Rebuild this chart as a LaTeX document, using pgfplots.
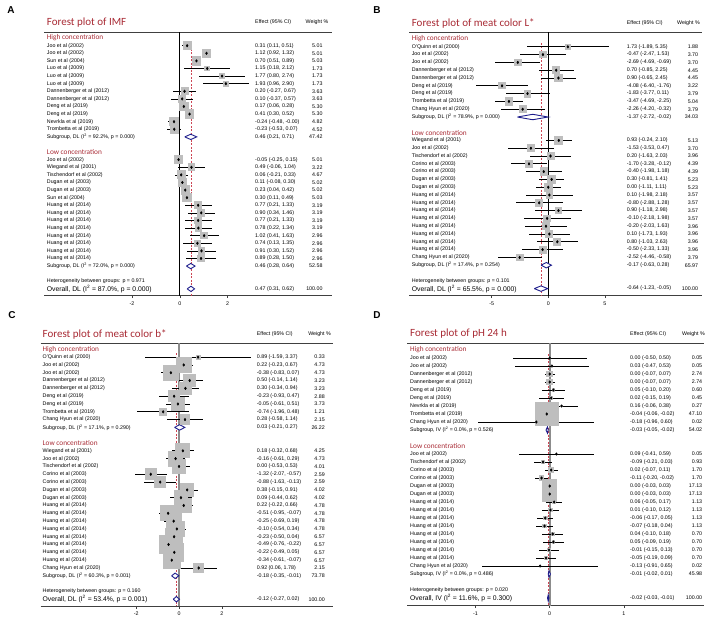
\documentclass[border=0pt]{standalone}
\usepackage{pgfplots}
\usepackage{pgfplotstable}
\pgfplotsset{compat=1.18}
\usepackage{fontspec}
\setmainfont{Liberation Sans}
\newfontfamily\calibri{Carlito}
\definecolor{titlered}{RGB}{168,42,52}
\definecolor{sqgray}{RGB}{190,190,190}
\definecolor{dashred}{RGB}{205,70,85}
\definecolor{navy}{RGB}{30,30,140}
\newcommand{\fs}{\fontsize{5.3}{6}\selectfont}
\newcommand{\ofs}{\fontsize{6.8}{8}\selectfont}
\pgfplotsset{
 forest/.style={
  scale only axis, clip=false, y dir=reverse,
  axis x line=box, axis y line=none,
  xtick pos=left, tick align=outside, major tick length=2.5pt,
  axis line style={black!75, line width=0.6pt},
  every tick/.style={black!75, line width=0.5pt},
  xticklabel style={font=\fs},
  /pgf/number format/assume math mode=true,
  ytick=\empty,
 },
 sq/.style={scatter, only marks, mark=square*,
  visualization depends on={#1*sqrt(\thisrow{w}) \as \msz},
  scatter/@pre marker code/.code={\scope[mark size=\msz, color=sqgray, line width=0pt]},
  scatter/@post marker code/.code={\endscope}},
 ci/.style={only marks, mark=diamond*, mark size=1.3pt, black,
  error bars/.cd, x dir=both, x explicit, error mark=none,
  error bar style={line width=0.7pt, black}},
 lab/.style={only marks, mark=*, mark size=0.1pt, mark options={draw opacity=0, fill opacity=0},
  nodes near coords, point meta=explicit symbolic,
  every node near coord/.append style={anchor=#1, font=\fs, inner sep=0pt, text=black, opacity=1, text opacity=1}},
 dia/.style={draw=navy, line width=0.9pt, fill=white, mark=none, line join=miter},
}
\newcommand{\rowtxt}[4]{%
 \node[anchor=west,font=\fs,inner sep=0pt] at (axis cs:\xn,#1) {#2};
 \node[anchor=west,font=\fs,inner sep=0pt] at (axis cs:\xe,#1) {#3};
 \node[anchor=east,font=\fs,inner sep=0pt] at (axis cs:\xw,#1) {#4};}
\newcommand{\ovtxt}[4]{%
 \node[anchor=west,font=\ofs,inner sep=0pt] at (axis cs:\xn,#1) {#2};
 \node[anchor=west,font=\fs,inner sep=0pt] at (axis cs:\xe,#1) {#3};
 \node[anchor=east,font=\fs,inner sep=0pt] at (axis cs:\xw,#1) {#4};}
\newcommand{\grp}[2]{\node[anchor=west,font=\calibri\fontsize{7.3}{8}\selectfont,text=titlered,inner sep=0pt] at (axis cs:\xn,#1) {#2};}
\newcommand{\heads}[3]{%
 \node[anchor=west,font=\calibri\fontsize{11}{13}\selectfont,text=titlered,inner sep=0pt] at (axis cs:\xn,#1) {#3};
 \node[anchor=west,font=\fs,inner sep=0pt] at (axis cs:\xe,#1) {Effect (95\% CI)};
 \node[anchor=west,font=\fs,inner sep=0pt] at (axis cs:#2,#1) {Weight \%};}

\pgfplotstableread[col sep=semicolon,row sep=\\]{y;est;lo;hi;w;name;eff\\
1;0.31;0.11;0.51;5.01;Joo et al (2002);0.31 (0.11, 0.51)\\
2;1.12;0.92;1.32;5.01;Joo et al (2002);1.12 (0.92, 1.32)\\
3;0.70;0.51;0.89;5.03;Sun et al (2004);0.70 (0.51, 0.89)\\
4;1.15;0.18;2.12;1.73;Luo et al (2009);1.15 (0.18, 2.12)\\
5;1.77;0.80;2.74;1.73;Luo et al (2009);1.77 (0.80, 2.74)\\
6;1.93;0.96;2.90;1.73;Luo et al (2009);1.93 (0.96, 2.90)\\
7;0.20;-0.27;0.67;3.63;Dannenberger et al (2012);0.20 (-0.27, 0.67)\\
8;0.10;-0.37;0.57;3.63;Dannenberger et al (2012);0.10 (-0.37, 0.57)\\
9;0.17;0.06;0.28;5.30;Deng et al (2019);0.17 (0.06, 0.28)\\
10;0.41;0.30;0.52;5.30;Deng et al (2019);0.41 (0.30, 0.52)\\
11;-0.24;-0.48;-0.00;4.82;Nevrkla et al (2019);-0.24 (-0.48, -0.00)\\
12;-0.23;-0.53;0.07;4.52;Trombetta et al (2019);-0.23 (-0.53, 0.07)\\
16;-0.05;-0.25;0.15;5.01;Joo et al (2002);-0.05 (-0.25, 0.15)\\
17;0.49;-0.06;1.04;3.22;Wiegand et al (2001);0.49 (-0.06, 1.04)\\
18;0.06;-0.21;0.33;4.67;Tischendorf et al (2002);0.06 (-0.21, 0.33)\\
19;0.11;-0.08;0.30;5.02;Dugan et al (2003);0.11 (-0.08, 0.30)\\
20;0.23;0.04;0.42;5.02;Dugan et al (2003);0.23 (0.04, 0.42)\\
21;0.30;0.11;0.49;5.03;Sun et al (2004);0.30 (0.11, 0.49)\\
22;0.77;0.21;1.33;3.19;Huang et al (2014);0.77 (0.21, 1.33)\\
23;0.90;0.34;1.46;3.19;Huang et al (2014);0.90 (0.34, 1.46)\\
24;0.77;0.21;1.33;3.19;Huang et al (2014);0.77 (0.21, 1.33)\\
25;0.78;0.22;1.34;3.19;Huang et al (2014);0.78 (0.22, 1.34)\\
26;1.02;0.41;1.63;2.96;Huang et al (2014);1.02 (0.41, 1.63)\\
27;0.74;0.13;1.35;2.96;Huang et al (2014);0.74 (0.13, 1.35)\\
28;0.91;0.30;1.52;2.96;Huang et al (2014);0.91 (0.30, 1.52)\\
29;0.89;0.28;1.50;2.96;Huang et al (2014);0.89 (0.28, 1.50)\\
}\tA

\pgfplotstableread[col sep=semicolon,row sep=\\]{y;est;lo;hi;w;name;eff\\
1;1.73;-1.89;5.35;1.88;O'Quinn et al (2000);1.73 (-1.89, 5.35)\\
2;-0.47;-2.47;1.53;3.70;Joo et al (2002);-0.47 (-2.47, 1.53)\\
3;-2.69;-4.69;-0.69;3.70;Joo et al (2002);-2.69 (-4.69, -0.69)\\
4;0.70;-0.85;2.25;4.45;Dannenberger et al (2012);0.70 (-0.85, 2.25)\\
5;0.90;-0.65;2.45;4.45;Dannenberger et al (2012);0.90 (-0.65, 2.45)\\
6;-4.08;-6.40;-1.76;3.22;Deng et al (2019);-4.08 (-6.40, -1.76)\\
7;-1.83;-3.77;0.11;3.79;Deng et al (2019);-1.83 (-3.77, 0.11)\\
8;-3.47;-4.69;-2.25;5.04;Trombetta et al (2019);-3.47 (-4.69, -2.25)\\
9;-2.26;-4.20;-0.32;3.79;Chang Hyun et al (2020);-2.26 (-4.20, -0.32)\\
13;0.93;-0.24;2.10;5.13;Wiegand et al (2001);0.93 (-0.24, 2.10)\\
14;-1.53;-3.53;0.47;3.70;Joo et al (2002);-1.53 (-3.53, 0.47)\\
15;0.20;-1.63;2.03;3.96;Tischendorf et al (2002);0.20 (-1.63, 2.03)\\
16;-1.70;-3.28;-0.12;4.39;Corino et al (2003);-1.70 (-3.28, -0.12)\\
17;-0.40;-1.98;1.18;4.39;Corino et al (2003);-0.40 (-1.98, 1.18)\\
18;0.30;-0.81;1.41;5.23;Dugan et al (2003);0.30 (-0.81, 1.41)\\
19;0.00;-1.11;1.11;5.23;Dugan et al (2003);0.00 (-1.11, 1.11)\\
20;0.10;-1.98;2.18;3.57;Huang et al (2014);0.10 (-1.98, 2.18)\\
21;-0.80;-2.88;1.28;3.57;Huang et al (2014);-0.80 (-2.88, 1.28)\\
22;0.90;-1.18;2.98;3.57;Huang et al (2014);0.90 (-1.18, 2.98)\\
23;-0.10;-2.18;1.98;3.57;Huang et al (2014);-0.10 (-2.18, 1.98)\\
24;-0.20;-2.03;1.63;3.96;Huang et al (2014);-0.20 (-2.03, 1.63)\\
25;0.10;-1.73;1.93;3.96;Huang et al (2014);0.10 (-1.73, 1.93)\\
26;0.80;-1.03;2.63;3.96;Huang et al (2014);0.80 (-1.03, 2.63)\\
27;-0.50;-2.33;1.33;3.96;Huang et al (2014);-0.50 (-2.33, 1.33)\\
28;-2.52;-4.46;-0.58;3.79;Chang Hyun et al (2020);-2.52 (-4.46, -0.58)\\
}\tB

\pgfplotstableread[col sep=semicolon,row sep=\\]{y;est;lo;hi;w;name;eff\\
1;0.89;-1.59;3.37;0.33;O'Quinn et al (2000);0.89 (-1.59, 3.37)\\
2;0.22;-0.23;0.67;4.73;Joo et al (2002);0.22 (-0.23, 0.67)\\
3;-0.38;-0.83;0.07;4.73;Joo et al (2002);-0.38 (-0.83, 0.07)\\
4;0.50;-0.14;1.14;3.23;Dannenberger et al (2012);0.50 (-0.14, 1.14)\\
5;0.30;-0.34;0.94;3.23;Dannenberger et al (2012);0.30 (-0.34, 0.94)\\
6;-0.23;-0.93;0.47;2.88;Deng et al (2019);-0.23 (-0.93, 0.47)\\
7;-0.05;-0.61;0.51;3.73;Deng et al (2019);-0.05 (-0.61, 0.51)\\
8;-0.74;-1.96;0.48;1.21;Trombetta et al (2019);-0.74 (-1.96, 0.48)\\
9;0.28;-0.58;1.14;2.15;Chang Hyun et al (2020);0.28 (-0.58, 1.14)\\
13;0.18;-0.32;0.68;4.25;Wiegand et al (2001);0.18 (-0.32, 0.68)\\
14;-0.16;-0.61;0.29;4.73;Joo et al (2002);-0.16 (-0.61, 0.29)\\
15;0.00;-0.53;0.53;4.01;Tischendorf et al (2002);0.00 (-0.53, 0.53)\\
16;-1.32;-2.07;-0.57;2.59;Corino et al (2003);-1.32 (-2.07, -0.57)\\
17;-0.88;-1.63;-0.13;2.59;Corino et al (2003);-0.88 (-1.63, -0.13)\\
18;0.38;-0.15;0.91;4.02;Dugan et al (2003);0.38 (-0.15, 0.91)\\
19;0.09;-0.44;0.62;4.02;Dugan et al (2003);0.09 (-0.44, 0.62)\\
20;0.22;-0.22;0.66;4.78;Huang et al (2014);0.22 (-0.22, 0.66)\\
21;-0.51;-0.95;-0.07;4.78;Huang et al (2014);-0.51 (-0.95, -0.07)\\
22;-0.25;-0.69;0.19;4.78;Huang et al (2014);-0.25 (-0.69, 0.19)\\
23;-0.10;-0.54;0.34;4.78;Huang et al (2014);-0.10 (-0.54, 0.34)\\
24;-0.23;-0.50;0.04;6.57;Huang et al (2014);-0.23 (-0.50, 0.04)\\
25;-0.49;-0.76;-0.22;6.57;Huang et al (2014);-0.49 (-0.76, -0.22)\\
26;-0.22;-0.49;0.05;6.57;Huang et al (2014);-0.22 (-0.49, 0.05)\\
27;-0.34;-0.61;-0.07;6.57;Huang et al (2014);-0.34 (-0.61, -0.07)\\
28;0.92;0.06;1.78;2.15;Chang Hyun et al (2020);0.92 (0.06, 1.78)\\
}\tC

\pgfplotstableread[col sep=semicolon,row sep=\\]{y;est;lo;hi;w;name;eff\\
1;0.00;-0.50;0.50;0.05;Joo et al (2002);0.00 (-0.50, 0.50)\\
2;0.03;-0.47;0.53;0.05;Joo et al (2002);0.03 (-0.47, 0.53)\\
3;0.00;-0.07;0.07;2.74;Dannenberger et al (2012);0.00 (-0.07, 0.07)\\
4;0.00;-0.07;0.07;2.74;Dannenberger et al (2012);0.00 (-0.07, 0.07)\\
5;0.05;-0.10;0.20;0.60;Deng et al (2019);0.05 (-0.10, 0.20)\\
6;0.02;-0.15;0.19;0.45;Deng et al (2019);0.02 (-0.15, 0.19)\\
7;0.16;-0.06;0.38;0.27;Nevrkla et al (2019);0.16 (-0.06, 0.38)\\
8;-0.04;-0.06;-0.02;47.10;Trombetta et al (2019);-0.04 (-0.06, -0.02)\\
9;-0.18;-0.96;0.60;0.02;Chang Hyun et al (2020);-0.18 (-0.96, 0.60)\\
13;0.09;-0.41;0.59;0.05;Joo et al (2002);0.09 (-0.41, 0.59)\\
14;-0.09;-0.21;0.03;0.93;Tischendorf et al (2002);-0.09 (-0.21, 0.03)\\
15;0.02;-0.07;0.11;1.70;Corino et al (2003);0.02 (-0.07, 0.11)\\
16;-0.11;-0.20;-0.02;1.70;Corino et al (2003);-0.11 (-0.20, -0.02)\\
17;0.00;-0.03;0.03;17.13;Dugan et al (2003);0.00 (-0.03, 0.03)\\
18;0.00;-0.03;0.03;17.13;Dugan et al (2003);0.00 (-0.03, 0.03)\\
19;0.06;-0.05;0.17;1.13;Huang et al (2014);0.06 (-0.05, 0.17)\\
20;0.01;-0.10;0.12;1.13;Huang et al (2014);0.01 (-0.10, 0.12)\\
21;-0.06;-0.17;0.05;1.13;Huang et al (2014);-0.06 (-0.17, 0.05)\\
22;-0.07;-0.18;0.04;1.13;Huang et al (2014);-0.07 (-0.18, 0.04)\\
23;0.04;-0.10;0.18;0.70;Huang et al (2014);0.04 (-0.10, 0.18)\\
24;0.05;-0.09;0.19;0.70;Huang et al (2014);0.05 (-0.09, 0.19)\\
25;-0.01;-0.15;0.13;0.70;Huang et al (2014);-0.01 (-0.15, 0.13)\\
26;-0.05;-0.19;0.09;0.70;Huang et al (2014);-0.05 (-0.19, 0.09)\\
27;-0.13;-0.91;0.65;0.02;Chang Hyun et al (2020);-0.13 (-0.91, 0.65)\\
}\tD

\begin{document}
\begin{tikzpicture}
\useasboundingbox (0,0) rectangle (708pt,-619pt);
\node[font=\bfseries\fontsize{10}{12}\selectfont] at (11pt,-10pt) {A};
\node[font=\bfseries\fontsize{10}{12}\selectfont] at (377pt,-10pt) {B};
\node[font=\bfseries\fontsize{10}{12}\selectfont] at (12pt,-315pt) {C};
\node[font=\bfseries\fontsize{10}{12}\selectfont] at (377pt,-315pt) {D};

% ---------------- Panel A ----------------
\def\xn{-5.565}\def\xe{3.15}\def\xw{5.98}
\begin{axis}[forest, at={(44pt,-295.7pt)}, anchor=south west,
  width=288pt, height=263.7pt, xmin=-5.68, xmax=6.37, ymin=-0.8, ymax=33.9,
  xtick={-2,0,2}]
\addplot[sq=1.85] table[x=est,y=y] {\tA};
\addplot[black, line width=0.6pt] coordinates {(0,-0.8) (0,33.9)};
\addplot[dashred, line width=0.6pt, dash pattern=on 2pt off 1.5pt] coordinates {(0.47,0.5) (0.47,33.9)};
\addplot[ci] table[x=est,y=y,x error plus expr=\thisrow{hi}-\thisrow{est},x error minus expr=\thisrow{est}-\thisrow{lo}] {\tA};
\addplot[dia] coordinates {(0.21,13) (0.46,12.65) (0.71,13) (0.46,13.35) (0.21,13)};
\addplot[dia] coordinates {(0.28,30) (0.46,29.65) (0.64,30) (0.46,30.35) (0.28,30)};
\addplot[dia] coordinates {(0.31,33) (0.47,32.65) (0.62,33) (0.47,33.35) (0.31,33)};
\addplot[lab=west] table[x expr=\xn,y=y,meta=name] {\tA};
\addplot[lab=west] table[x expr=\xe,y=y,meta=eff] {\tA};
\addplot[lab=east] table[x expr=\xw,y=y,meta=w] {\tA};
\heads{-2.05}{5.26}{Forest plot of IMF}
\grp{0}{High concentration}
\grp{15}{Low concentration}
\rowtxt{13}{Subgroup, DL (I\textsuperscript{2} = 92.2\%, p = 0.000)}{0.46 (0.21, 0.71)}{47.42}
\rowtxt{30}{Subgroup, DL (I\textsuperscript{2} = 72.0\%, p = 0.000)}{0.46 (0.28, 0.64)}{52.58}
\node[anchor=west,font=\fs,inner sep=0pt] at (axis cs:\xn,32) {Heterogeneity between groups: p = 0.971};
\ovtxt{33}{Overall, DL (I\textsuperscript{2} = 87.0\%, p = 0.000)}{0.47 (0.31, 0.62)}{100.00}
\end{axis}

% ---------------- Panel B ----------------
\def\xn{-12.06}\def\xe{6.92}\def\xw{13.24}
\begin{axis}[forest, at={(409pt,-295.7pt)}, anchor=south west,
  width=293pt, height=263.4pt, xmin=-12.29, xmax=13.57, ymin=-0.86, ymax=32.91,
  xtick={-5,0,5}]
\addplot[sq=1.75] table[x=est,y=y] {\tB};
\addplot[black, line width=0.6pt] coordinates {(0,-0.86) (0,32.91)};
\addplot[dashred, line width=0.6pt, dash pattern=on 2pt off 1.5pt] coordinates {(-0.64,0.5) (-0.64,32.91)};
\addplot[ci] table[x=est,y=y,x error plus expr=\thisrow{hi}-\thisrow{est},x error minus expr=\thisrow{est}-\thisrow{lo}] {\tB};
\addplot[dia] coordinates {(-2.72,10) (-1.37,9.65) (-0.02,10) (-1.37,10.35) (-2.72,10)};
\addplot[dia] coordinates {(-0.63,29) (-0.17,28.65) (0.28,29) (-0.17,29.35) (-0.63,29)};
\addplot[dia] coordinates {(-1.23,32) (-0.64,31.65) (-0.05,32) (-0.64,32.35) (-1.23,32)};
\addplot[lab=west] table[x expr=\xn,y=y,meta=name] {\tB};
\addplot[lab=west] table[x expr=\xe,y=y,meta=eff] {\tB};
\addplot[lab=east] table[x expr=\xw,y=y,meta=w] {\tB};
\heads{-2.05}{11.36}{Forest plot of meat color L*}
\grp{0}{High concentration}
\grp{12}{Low concentration}
\rowtxt{10}{Subgroup, DL (I\textsuperscript{2} = 78.9\%, p = 0.000)}{-1.37 (-2.72, -0.02)}{34.03}
\rowtxt{29}{Subgroup, DL (I\textsuperscript{2} = 17.4\%, p = 0.254)}{-0.17 (-0.63, 0.28)}{65.97}
\node[anchor=west,font=\fs,inner sep=0pt] at (axis cs:\xn,31) {Heterogeneity between groups: p = 0.101};
\ovtxt{32}{Overall, DL (I\textsuperscript{2} = 65.5\%, p = 0.000)}{-0.64 (-1.23, -0.05)}{100.00}
\end{axis}

% ---------------- Panel C ----------------
\def\xn{-6.38}\def\xe{3.63}\def\xw{6.82}
\begin{axis}[forest, at={(40.7pt,-606pt)}, anchor=south west,
  width=292.3pt, height=262.7pt, xmin=-6.463, xmax=7.196, ymin=-0.77, ymax=32.87,
  xtick={-2,0,2}]
\addplot[sq=3.4] table[x=est,y=y] {\tC};
\addplot[black!45, line width=1.6pt] coordinates {(0,-0.77) (0,32.87)};
\addplot[dashred, line width=0.6pt, dash pattern=on 2pt off 1.5pt] coordinates {(-0.12,0.5) (-0.12,32.87)};
\addplot[ci] table[x=est,y=y,x error plus expr=\thisrow{hi}-\thisrow{est},x error minus expr=\thisrow{est}-\thisrow{lo}] {\tC};
\addplot[dia] coordinates {(-0.21,10) (0.03,9.65) (0.27,10) (0.03,10.35) (-0.21,10)};
\addplot[dia] coordinates {(-0.35,29) (-0.18,28.65) (-0.01,29) (-0.18,29.35) (-0.35,29)};
\addplot[dia] coordinates {(-0.27,32) (-0.12,31.65) (0.02,32) (-0.12,32.35) (-0.27,32)};
\addplot[lab=west] table[x expr=\xn,y=y,meta=name] {\tC};
\addplot[lab=west] table[x expr=\xe,y=y,meta=eff] {\tC};
\addplot[lab=east] table[x expr=\xw,y=y,meta=w] {\tC};
\heads{-1.96}{6.03}{Forest plot of meat color b*}
\grp{0}{High concentration}
\grp{12}{Low concentration}
\rowtxt{10}{Subgroup, DL (I\textsuperscript{2} = 17.1\%, p = 0.290)}{0.03 (-0.21, 0.27)}{26.22}
\rowtxt{29}{Subgroup, DL (I\textsuperscript{2} = 60.3\%, p = 0.001)}{-0.18 (-0.35, -0.01)}{73.78}
\node[anchor=west,font=\fs,inner sep=0pt] at (axis cs:\xn,31) {Heterogeneity between groups: p = 0.160};
\ovtxt{32}{Overall, DL (I\textsuperscript{2} = 53.4\%, p = 0.001)}{-0.12 (-0.27, 0.02)}{100.00}
\end{axis}

% ---------------- Panel D ----------------
\def\xn{-1.883}\def\xe{1.082}\def\xw{2.057}
\begin{axis}[forest, at={(407pt,-605.7pt)}, anchor=south west,
  width=297pt, height=262.4pt, xmin=-1.923, xmax=2.079, ymin=-0.84, ymax=31.96,
  xtick={-1,0,1}]
\addplot[sq=1.7] table[x=est,y=y] {\tD};
\addplot[black!45, line width=1.6pt] coordinates {(0,-0.84) (0,31.96)};
\addplot[dashred, line width=0.6pt, dash pattern=on 2pt off 1.5pt] coordinates {(-0.02,0.5) (-0.02,31.96)};
\addplot[ci] table[x=est,y=y,x error plus expr=\thisrow{hi}-\thisrow{est},x error minus expr=\thisrow{est}-\thisrow{lo}] {\tD};
\addplot[dia] coordinates {(-0.05,10) (-0.03,9.6) (-0.02,10) (-0.03,10.4) (-0.05,10)};
\addplot[dia] coordinates {(-0.02,28) (-0.01,27.6) (0.01,28) (-0.01,28.4) (-0.02,28)};
\addplot[dia] coordinates {(-0.03,31) (-0.02,30.6) (-0.01,31) (-0.02,31.4) (-0.03,31)};
\addplot[lab=west] table[x expr=\xn,y=y,meta=name] {\tD};
\addplot[lab=west] table[x expr=\xe,y=y,meta=eff] {\tD};
\addplot[lab=east] table[x expr=\xw,y=y,meta=w] {\tD};
\heads{-2.0}{1.783}{Forest plot of pH 24 h}
\grp{0}{High concentration}
\grp{12}{Low concentration}
\rowtxt{10}{Subgroup, IV (I\textsuperscript{2} = 0.0\%, p = 0.526)}{-0.03 (-0.05, -0.02)}{54.02}
\rowtxt{28}{Subgroup, IV (I\textsuperscript{2} = 0.0\%, p = 0.486)}{-0.01 (-0.02, 0.01)}{45.98}
\node[anchor=west,font=\fs,inner sep=0pt] at (axis cs:\xn,30) {Heterogeneity between groups: p = 0.020};
\ovtxt{31}{Overall, IV (I\textsuperscript{2} = 11.6\%, p = 0.300)}{-0.02 (-0.03, -0.01)}{100.00}
\end{axis}
\end{tikzpicture}
\end{document}
